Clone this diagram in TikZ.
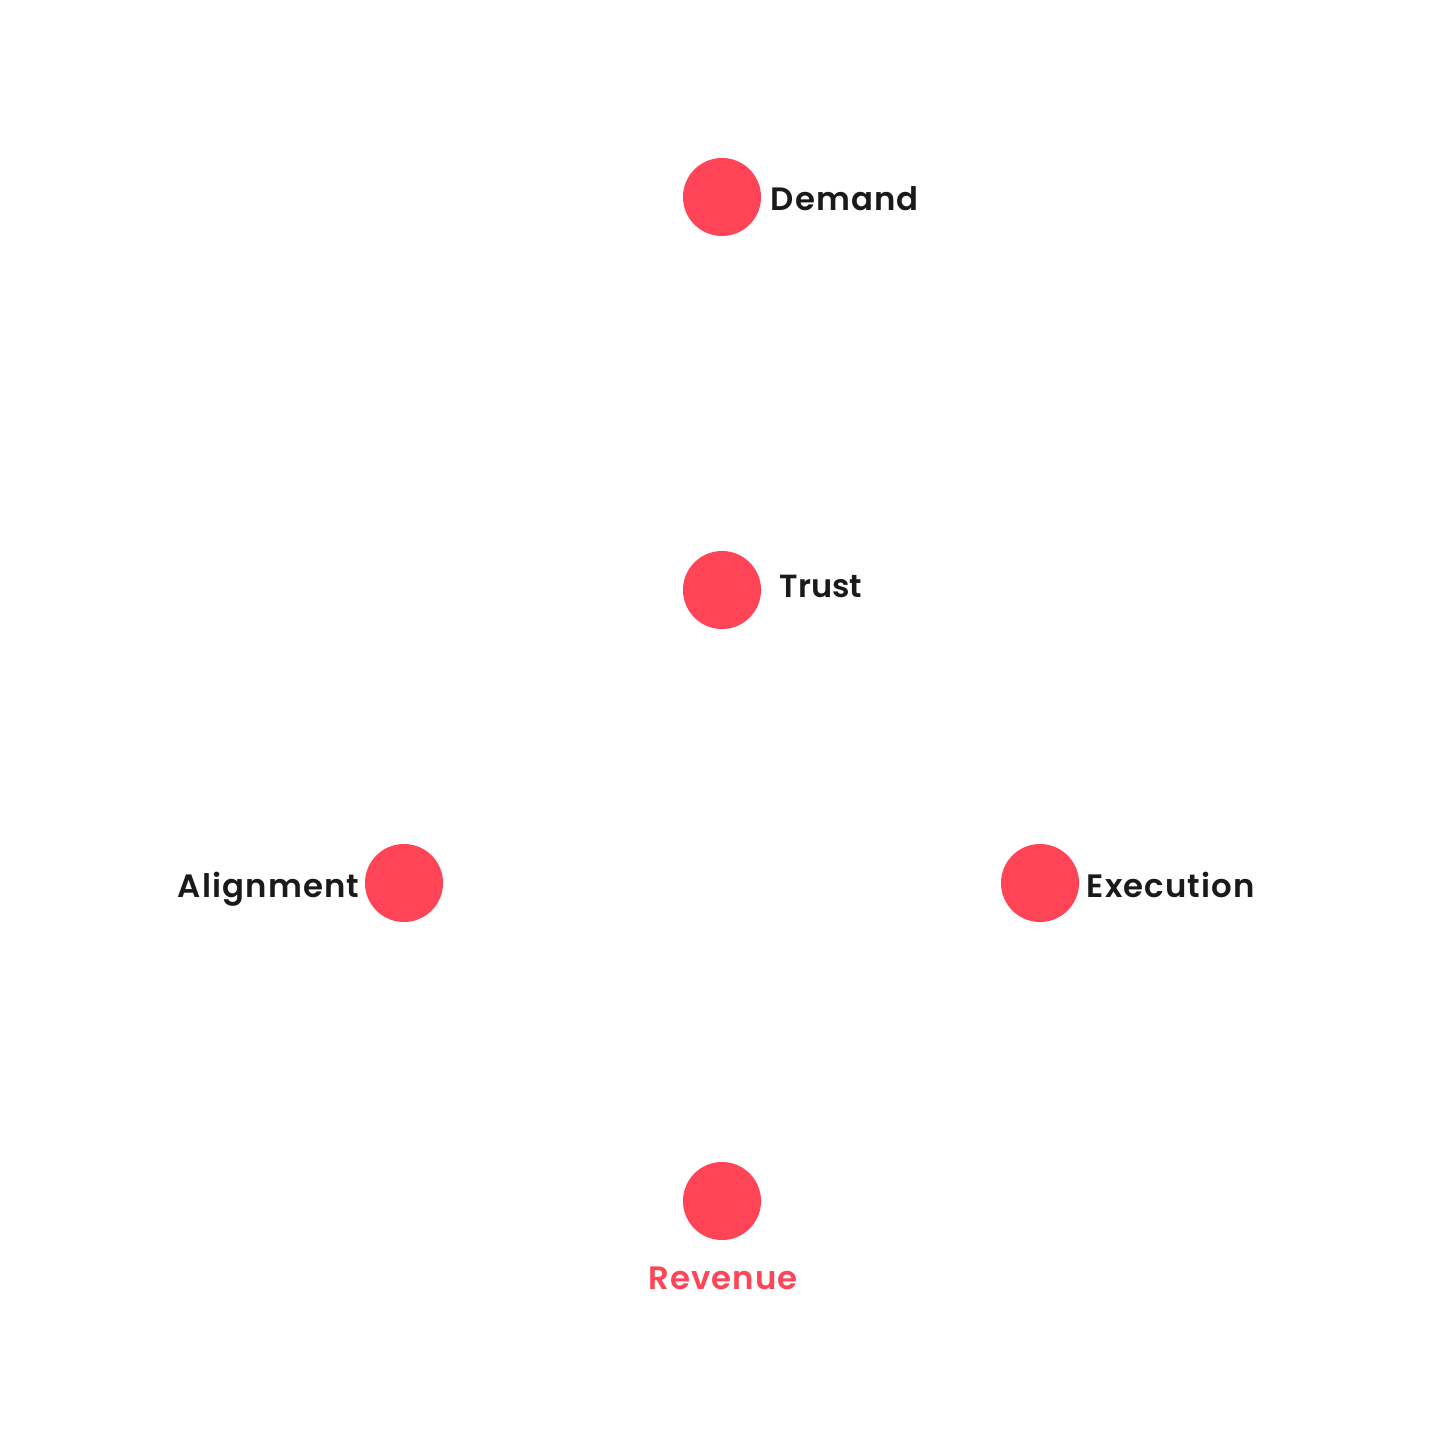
\documentclass[tikz,border=0pt]{standalone}
\usepackage{fontspec}
\setmainfont{Poppins}[UprightFont=* SemiBold,LetterSpace=3.5]
\newfontfamily\tightfont{Poppins}[UprightFont=* SemiBold]
\definecolor{dotred}{HTML}{FF4457}
\definecolor{ink}{HTML}{1A1A1A}
\begin{document}
\begin{tikzpicture}[x=0.01cm,y=-0.01cm,
  dot/.style={circle,fill=dotred,draw=none,minimum size=0.78cm,inner sep=0pt},
  lbl/.style={inner sep=0pt,text=ink,font=\fontsize{9.2pt}{11pt}\selectfont}]
\useasboundingbox (0,0) rectangle (1440,1440);
\node[dot] (demand) at (722,197) {};
\node[dot] (trust) at (722,590) {};
\node[dot] (align) at (404,883) {};
\node[dot] (exec) at (1040,883) {};
\node[dot] (rev) at (722,1201) {};
\node[lbl,anchor=base west] (tdemand) at (770,211) {Demand};
\node[lbl,anchor=base west,font=\tightfont\fontsize{9.1pt}{11pt}\selectfont] (ttrust) at (779,597) {Trust};
\node[lbl,anchor=base east] (talign) at (360,897) {Alignment};
\node[lbl,anchor=base west] (texec) at (1086,897) {Execution};
\node[lbl,anchor=base,text=dotred] (trev) at (723,1289) {Revenue};
\end{tikzpicture}
\end{document}
